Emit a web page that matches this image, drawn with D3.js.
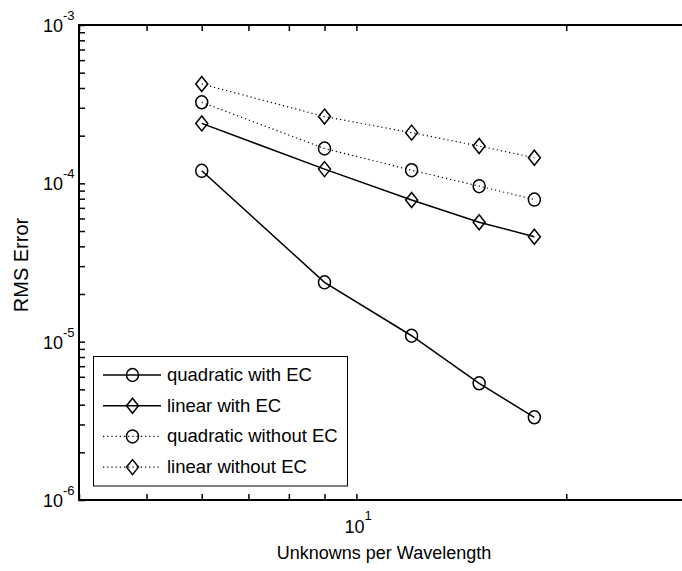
<!DOCTYPE html>
<html>
<head>
<meta charset="utf-8">
<script src="https://cdn.jsdelivr.net/npm/d3@7/dist/d3.min.js"></script>
<style>
  body { margin: 0; background: #fff; }
  svg { display: block; font-family: "Liberation Sans", Arial, Helvetica, sans-serif; }
</style>
</head>
<body>
<div id="chart"></div>
<script>
// unknowns per wavelength (x) and RMS error of each method
var unknowns = [6, 9, 12, 15, 18];
var quadWithEC = [1.20e-4, 2.37e-5, 1.09e-5, 5.46e-6, 3.33e-6];
var linWithEC = [2.39e-4, 1.23e-4, 7.85e-5, 5.68e-5, 4.60e-5];
var quadWithoutEC = [3.25e-4, 1.66e-4, 1.21e-4, 9.6e-5, 7.9e-5];
var linWithoutEC = [4.24e-4, 2.64e-4, 2.09e-4, 1.72e-4, 1.45e-4];
var seriesNames = ["quadratic with EC", "linear with EC", "quadratic without EC", "linear without EC"];

var xTicks = [4, 5, 6, 7, 8, 9, 10, 20, 30];
var xLabelTicks = [10];
var yMajor = [1e-6, 1e-5, 1e-4, 1e-3];

var series = [
  {name: seriesNames[0], values: quadWithEC, marker: "circle", dotted: false},
  {name: seriesNames[1], values: linWithEC, marker: "diamond", dotted: false},
  {name: seriesNames[2], values: quadWithoutEC, marker: "circle", dotted: true},
  {name: seriesNames[3], values: linWithoutEC, marker: "diamond", dotted: true}
];

var width = 682, height = 571;
var plotLeft = 79, plotRight = 689, plotTop = 25, plotBottom = 500;

var svg = d3.select("#chart").append("svg")
    .attr("width", width)
    .attr("height", height);

var x = d3.scaleLog().domain([4, 30]).range([plotLeft, plotRight]);
var y = d3.scaleLog().domain([1e-6, 1e-3]).range([plotBottom, plotTop]);

var yTicks = [];
yMajor.forEach(function(m, i) {
  yTicks.push(m);
  if (i < yMajor.length - 1) {
    for (var k = 2; k <= 9; k++) yTicks.push(m * k);
  }
});

// axes (ticks inward, like matlab)
function styleAxis(g) {
  g.select(".domain").remove();
  g.selectAll("line").attr("stroke", "#000").attr("stroke-width", 1.5);
  g.selectAll("text").remove();
}

svg.append("g").attr("transform", "translate(0," + plotBottom + ")")
    .call(d3.axisBottom(x).tickValues(xTicks).tickSize(-6).tickFormat(""))
    .call(styleAxis);
svg.append("g").attr("transform", "translate(0," + plotTop + ")")
    .call(d3.axisTop(x).tickValues(xTicks).tickSize(-6).tickFormat(""))
    .call(styleAxis);
svg.append("g").attr("transform", "translate(" + plotLeft + ",0)")
    .call(d3.axisLeft(y).tickValues(yTicks).tickSize(-6).tickFormat(""))
    .call(styleAxis);
svg.append("g").attr("transform", "translate(" + plotRight + ",0)")
    .call(d3.axisRight(y).tickValues(yTicks).tickSize(-6).tickFormat(""))
    .call(styleAxis);

svg.append("rect")
    .attr("x", plotLeft).attr("y", plotTop)
    .attr("width", plotRight - plotLeft).attr("height", plotBottom - plotTop)
    .attr("fill", "none").attr("stroke", "#000").attr("stroke-width", 2);

// tick labels with superscript exponents
svg.selectAll(".ylab").data(yMajor).enter().append("text")
    .attr("class", "ylab")
    .attr("x", 43)
    .attr("y", function(d) { return y(d) + 7; })
    .attr("font-size", 18)
    .each(function(d) {
      var t = d3.select(this);
      t.append("tspan").text("10");
      t.append("tspan").attr("dy", -12).attr("font-size", 13).text(Math.round(Math.log10(d)));
    });

svg.selectAll(".xlab").data(xLabelTicks).enter().append("text")
    .attr("class", "xlab")
    .attr("x", function(d) { return x(d) - 12; })
    .attr("y", 533)
    .attr("font-size", 18)
    .each(function(d) {
      var t = d3.select(this);
      t.append("tspan").text("10");
      t.append("tspan").attr("dy", -13).attr("font-size", 13).text(Math.round(Math.log10(d)));
    });

svg.append("text")
    .attr("x", (plotLeft + plotRight) / 2)
    .attr("y", 559)
    .attr("text-anchor", "middle")
    .attr("font-size", 18)
    .text("Unknowns per Wavelength");

svg.append("text")
    .attr("transform", "translate(28,265) rotate(-90)")
    .attr("text-anchor", "middle")
    .attr("font-size", 20)
    .text("RMS Error");

// markers
function drawMarker(g, type, cx, cy) {
  if (type == "circle") {
    g.append("ellipse")
        .attr("cx", cx).attr("cy", cy).attr("rx", 6).attr("ry", 6.5)
        .attr("fill", "none").attr("stroke", "#000").attr("stroke-width", 1.5);
  } else {
    g.append("path")
        .attr("d", "M" + cx + "," + (cy - 7.5) + "L" + (cx + 6) + "," + cy +
                   "L" + cx + "," + (cy + 7.5) + "L" + (cx - 6) + "," + cy + "Z")
        .attr("fill", "none").attr("stroke", "#000").attr("stroke-width", 1.5);
  }
}

var line = d3.line()
    .x(function(d, i) { return x(unknowns[i]); })
    .y(function(d) { return y(d); });

series.forEach(function(s) {
  var g = svg.append("g");
  g.append("path")
      .attr("d", line(s.values))
      .attr("fill", "none")
      .attr("stroke", "#000")
      .attr("stroke-width", s.dotted ? 1.2 : 1.5)
      .attr("stroke-dasharray", s.dotted ? "1.2,3" : null);
  s.values.forEach(function(v, i) {
    drawMarker(g, s.marker, x(unknowns[i]), y(v));
  });
});

// legend
var leg = svg.append("g");
leg.append("rect")
    .attr("x", 93.5).attr("y", 356.5)
    .attr("width", 254).attr("height", 129.5)
    .attr("fill", "#fff").attr("stroke", "#000").attr("stroke-width", 1);

series.forEach(function(s, i) {
  var ly = 375 + i * 30.7;
  leg.append("line")
      .attr("x1", 103).attr("x2", 161)
      .attr("y1", ly).attr("y2", ly)
      .attr("stroke", "#000")
      .attr("stroke-width", s.dotted ? 1.2 : 1.5)
      .attr("stroke-dasharray", s.dotted ? "1.2,3" : null);
  drawMarker(leg, s.marker, 132.5, ly);
  leg.append("text")
      .attr("x", 167)
      .attr("y", ly + 6)
      .attr("font-size", 18.5)
      .text(s.name);
});
</script>
</body>
</html>
